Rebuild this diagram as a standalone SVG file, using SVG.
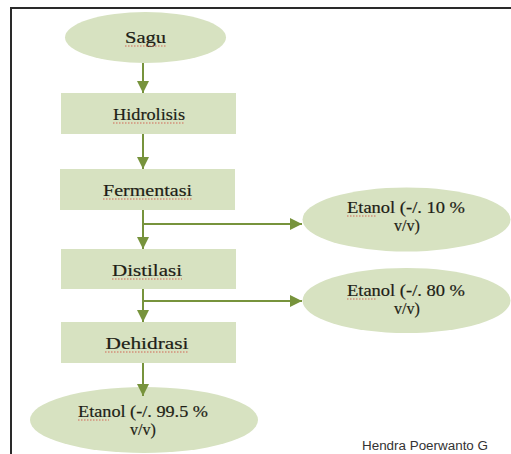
<svg xmlns="http://www.w3.org/2000/svg" width="511" height="454" viewBox="0 0 511 454">
<defs>
<marker id="ah" viewBox="0 0 12 12" markerWidth="12" markerHeight="12" refX="12" refY="6" orient="auto" markerUnits="userSpaceOnUse">
<path d="M0,0 L12,6 L0,12 Z" fill="#77933c"/>
</marker>
</defs>
<style>
.shape{fill:#d7e2c1;stroke:none}
.lbl{font-family:"Liberation Serif","Times New Roman",serif;font-size:17px;fill:#1e1e16;text-anchor:middle;stroke:#1e1e16;stroke-width:0.2}
.sm{font-size:16px}
.conn{stroke:#77933c;stroke-width:2;fill:none}
.spell{stroke:#d04a3a;stroke-width:1;stroke-dasharray:1.5 1.5;fill:none;opacity:0.8}
.credit{font-family:"Liberation Sans",Arial,sans-serif;font-size:12.5px;fill:#333}
</style>
<rect x="0" y="0" width="511" height="454" fill="#ffffff"/>
<path d="M11,454 V8 H511" fill="none" stroke="#2a2a2a" stroke-width="2"/>

<g id="sagu">
<ellipse class="shape" cx="145.5" cy="37.5" rx="80.5" ry="25.5"/>
<text class="lbl" x="145.5" y="43" textLength="41" lengthAdjust="spacingAndGlyphs">Sagu</text>
<path class="spell" d="M125,46 H166"/>
</g>
<g id="hidrolisis">
<rect class="shape" x="61" y="93" width="175" height="41"/>
<text class="lbl" x="149" y="120" textLength="72" lengthAdjust="spacingAndGlyphs">Hidrolisis</text>
<path class="spell" d="M113,123 H185"/>
</g>
<g id="fermentasi">
<rect class="shape" x="60" y="169" width="175" height="41"/>
<text class="lbl" x="147.5" y="196" textLength="89" lengthAdjust="spacingAndGlyphs">Fermentasi</text>
<path class="spell" d="M103,199 H192"/>
</g>
<g id="distilasi">
<rect class="shape" x="61" y="249" width="175" height="40"/>
<text class="lbl" x="147" y="276" textLength="70" lengthAdjust="spacingAndGlyphs">Distilasi</text>
<path class="spell" d="M112,279 H182"/>
</g>
<g id="dehidrasi">
<rect class="shape" x="61" y="322" width="175" height="41"/>
<text class="lbl" x="147" y="349" textLength="83" lengthAdjust="spacingAndGlyphs">Dehidrasi</text>
<path class="spell" d="M105,352 H188"/>
</g>
<g id="etanol10">
<ellipse class="shape" cx="406.5" cy="219.5" rx="104" ry="32"/>
<text class="lbl sm" x="406" y="213" textLength="118" lengthAdjust="spacingAndGlyphs">Etanol (-/. 10 %</text>
<text class="lbl sm" x="407" y="231">v/v)</text>
<path class="spell" d="M347,216 H377"/>
</g>
<g id="etanol80">
<ellipse class="shape" cx="406.5" cy="300.5" rx="104" ry="32.5"/>
<text class="lbl sm" x="406" y="296" textLength="118" lengthAdjust="spacingAndGlyphs">Etanol (-/. 80 %</text>
<text class="lbl sm" x="407" y="314">v/v)</text>
<path class="spell" d="M347,299 H377"/>
</g>
<g id="etanol995">
<ellipse class="shape" cx="144" cy="420" rx="114" ry="33"/>
<text class="lbl sm" x="143" y="417" textLength="130" lengthAdjust="spacingAndGlyphs">Etanol (-/. 99.5 %</text>
<text class="lbl sm" x="143" y="435">v/v)</text>
<path class="spell" d="M78,420 H109"/>
</g>

<g id="connectors">
<path class="conn" d="M143,63 V93" marker-end="url(#ah)"/>
<path class="conn" d="M143,134 V169" marker-end="url(#ah)"/>
<path class="conn" d="M143,210 V249" marker-end="url(#ah)"/>
<path class="conn" d="M143,224 H302" marker-end="url(#ah)"/>
<path class="conn" d="M143,289 V322" marker-end="url(#ah)"/>
<path class="conn" d="M143,301 H302" marker-end="url(#ah)"/>
<path class="conn" d="M143,363 V396" marker-end="url(#ah)"/>
</g>

<text class="credit" x="362" y="450" textLength="126" lengthAdjust="spacingAndGlyphs">Hendra Poerwanto G</text>
</svg>
